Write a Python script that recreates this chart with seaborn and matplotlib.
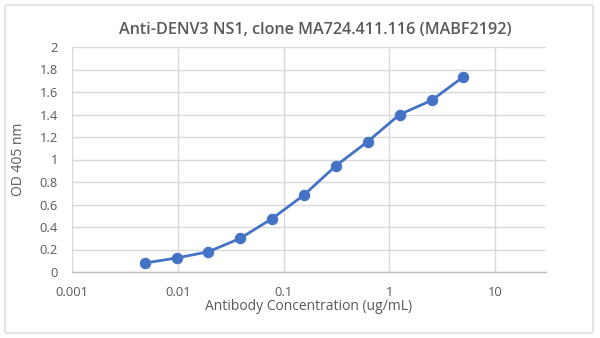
import matplotlib
matplotlib.use("Agg")
import matplotlib.pyplot as plt
import matplotlib.ticker as mticker
from matplotlib.patches import FancyBboxPatch
import seaborn as sns
import pandas as pd

# Two-fold antibody dilution series (ug/mL) and measured absorbance
concentration = [0.0049, 0.0098, 0.0195, 0.039, 0.078, 0.156, 0.3125, 0.625, 1.25, 2.5, 5.0]
od_405 = [0.08, 0.125, 0.18, 0.30, 0.475, 0.685, 0.945, 1.16, 1.40, 1.525, 1.735]
x_ticks = [0.001, 0.01, 0.1, 1, 10]
x_tick_labels = ["0.001", "0.01", "0.1", "1", "10"]
y_ticks = [0, 0.2, 0.4, 0.6, 0.8, 1, 1.2, 1.4, 1.6, 1.8, 2]
y_tick_labels = ["0", "0.2", "0.4", "0.6", "0.8", "1", "1.2", "1.4", "1.6", "1.8", "2"]

df = pd.DataFrame({"conc": concentration, "od": od_405})

sns.set_style("white")
plt.rcParams["font.family"] = ["Open Sans", "DejaVu Sans"]

text_color = "#595959"
grid_color = "#d9d9d9"
line_color = "#4472C4"

fig = plt.figure(figsize=(6.0, 3.38), dpi=100)
ax = fig.add_axes([72 / 600, 1 - 272 / 338, (546 - 72) / 600, (272 - 47) / 338])

# outer chart border
fig.patches.append(FancyBboxPatch((5 / 600, 5 / 338), 588 / 600, 328 / 338,
                                  boxstyle="round,pad=0,rounding_size=0.004",
                                  transform=fig.transFigure, fill=False,
                                  edgecolor="#d9d9d9", linewidth=1.0))

sns.lineplot(data=df, x="conc", y="od", ax=ax, color=line_color, linewidth=2.0,
             marker="o", markersize=7.5, markeredgecolor=line_color,
             markerfacecolor=line_color, zorder=3)

ax.set_xscale("log")
ax.set_xlim(0.001, 10 ** 1.48)
ax.set_ylim(0, 2)
ax.xaxis.set_major_locator(mticker.FixedLocator(x_ticks))
ax.xaxis.set_minor_locator(mticker.NullLocator())
ax.set_xticks(x_ticks, x_tick_labels)
ax.set_yticks(y_ticks, y_tick_labels)

ax.grid(True, which="major", color=grid_color, linewidth=1.0)
ax.set_axisbelow(True)
for side in ["top", "right", "left"]:
    ax.spines[side].set_visible(False)
ax.spines["bottom"].set_color("#bfbfbf")
ax.spines["bottom"].set_linewidth(1.0)

ax.tick_params(axis="both", length=0, labelsize=9.3, labelcolor=text_color)
ax.tick_params(axis="x", pad=10)
ax.tick_params(axis="y", pad=10)

ax.set_xlabel("Antibody Concentration (ug/mL)", fontsize=10, color=text_color, labelpad=0)
ax.set_ylabel("OD 405 nm", fontsize=10, color=text_color, labelpad=10)

fig.text(315 / 600, 1 - 30 / 338, "Anti-DENV3 NS1, clone MA724.411.116 (MABF2192)",
         ha="center", va="center", fontsize=11.6, fontweight="semibold", color=text_color)

fig.savefig("out.png", dpi=100)
